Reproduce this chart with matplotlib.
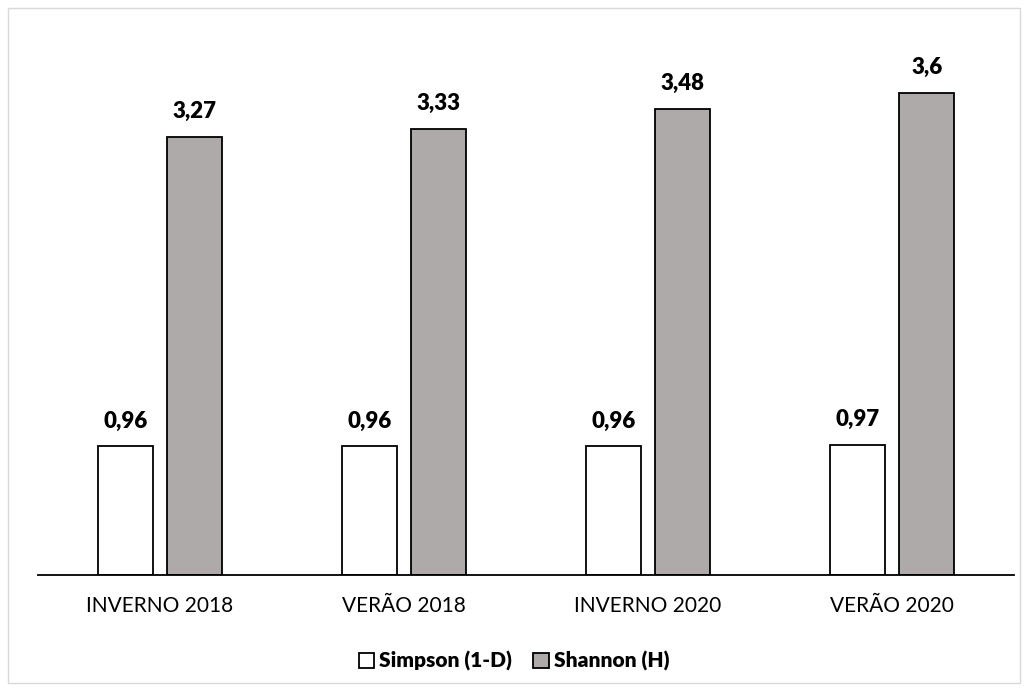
import matplotlib
matplotlib.use("Agg")
import matplotlib.pyplot as plt
import numpy as np
from matplotlib.patches import Rectangle

plt.rcParams['font.family'] = ['Lato', 'DejaVu Sans']

categories = ["INVERNO 2018", "VERÃO 2018", "INVERNO 2020", "VERÃO 2020"]
simpson = [0.96, 0.96, 0.96, 0.97]
shannon = [3.27, 3.33, 3.48, 3.6]
simpson_labels = ["0,96", "0,96", "0,96", "0,97"]
shannon_labels = ["3,27", "3,33", "3,48", "3,6"]

fig = plt.figure(figsize=(10.28, 6.91), dpi=100)
ax = fig.add_axes([38/1028, 1-575/691, (1014-38)/1028, (575-39)/691])

x = np.arange(len(categories))
w = 0.225
off = 0.142
gray = "#AEAAAA"
b1 = ax.bar(x - off, simpson, w, color="white", edgecolor="black", linewidth=1.3, label="Simpson (1-D)")
b2 = ax.bar(x + off, shannon, w, color=gray, edgecolor="black", linewidth=1.3, label="Shannon (H)")

for xi, v, t in zip(x - off, simpson, simpson_labels):
    ax.text(xi, v + 0.11, t, ha="center", va="bottom", fontsize=16, fontweight="heavy")
for xi, v, t in zip(x + off, shannon, shannon_labels):
    ax.text(xi, v + 0.11, t, ha="center", va="bottom", fontsize=16, fontweight="heavy")

ax.set_xlim(-0.5, 3.5)
ax.set_ylim(0, 4)
ax.set_xticks(x)
ax.set_xticklabels(categories, fontsize=15)
ax.tick_params(axis="x", length=0, pad=15)
ax.set_yticks([])
for s in ["top", "right", "left"]:
    ax.spines[s].set_visible(False)
ax.spines["bottom"].set_linewidth(1.3)

leg = fig.legend(handles=[b1, b2], loc="center", bbox_to_anchor=(0.5, 1-661/691), ncol=2,
                 frameon=False, prop={"weight": "heavy", "size": 15},
                 handlelength=0.75, handleheight=0.75, handletextpad=0.25, columnspacing=1.0)

border = Rectangle((8/1028, 8/691), 1012/1028, 675/691, transform=fig.transFigure,
                   fill=False, edgecolor="#D9D9D9", linewidth=1.0)
fig.patches.append(border)

fig.savefig("out.png", dpi=100)
